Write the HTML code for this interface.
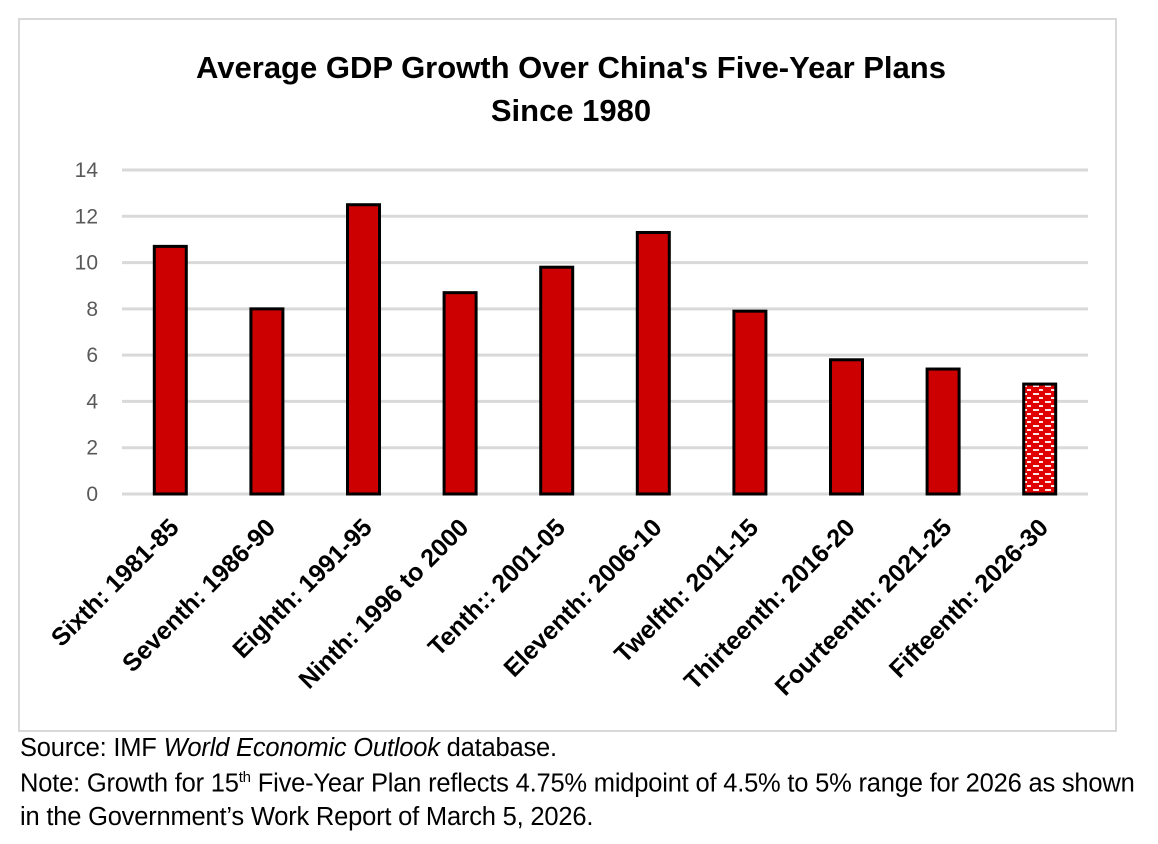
<!DOCTYPE html>
<html><head><meta charset="utf-8"><style>
body{margin:0;background:#fff;width:1158px;height:844px;position:relative;font-family:"Liberation Sans",Arial,sans-serif;overflow:hidden}
#box{position:absolute;left:18px;top:18px;width:1099px;height:714px;border:2px solid #d9d9d9;box-sizing:border-box}
.note{position:absolute;left:20px;font-family:"Liberation Sans",Arial,sans-serif;font-size:25.5px;color:#000;white-space:nowrap;letter-spacing:-0.2px}
</style></head><body>
<div id="box"></div>
<svg width="1158" height="844" style="position:absolute;left:0;top:0">
<defs><pattern id="pat" width="12" height="8" patternUnits="userSpaceOnUse">
<rect width="12" height="8" fill="#e00000"/><rect x="1" y="1" width="6" height="2" fill="#fff" opacity="0.9"/><rect x="7" y="5" width="4" height="2" fill="#fff" opacity="0.9"/></pattern></defs>
<text x="571" y="78" text-anchor="middle" font-size="31" font-weight="bold">Average GDP Growth Over China's Five-Year Plans</text>
<text x="571" y="121" text-anchor="middle" font-size="31" font-weight="bold">Since 1980</text>
<g id="grid"></g><g id="bars"></g><g id="xl"></g>
</svg>
<div class="note" style="top:734px">Source: IMF <i>World Economic Outlook</i> database.</div>
<div class="note" style="top:769px">Note: Growth for 15<sup style="font-size:15px">th</sup> Five-Year Plan reflects 4.75% midpoint of 4.5% to 5% range for 2026 as shown</div>
<div class="note" style="top:803px">in the Government’s Work Report of March 5, 2026.</div>
<script>
const categories=["Sixth: 1981-85","Seventh: 1986-90","Eighth: 1991-95","Ninth: 1996 to 2000","Tenth:: 2001-05","Eleventh: 2006-10","Twelfth: 2011-15","Thirteenth: 2016-20","Fourteenth: 2021-25","Fifteenth: 2026-30"];
const values=[10.7,8.0,12.5,8.7,9.8,11.3,7.9,5.8,5.4,4.75];
const ticks=[0,2,4,6,8,10,12,14];
const NS="http://www.w3.org/2000/svg";
const x0=122,x1=1088,yB=494,yT=170,ymax=14;
const y=v=>yB-(v/ymax)*(yB-yT);
const bw=(x1-x0)/categories.length;
const xc=i=>x0+bw*(i+0.5);
function mk(t,a,p){const e=document.createElementNS(NS,t);for(const k in a)e.setAttribute(k,a[k]);p.appendChild(e);return e;}
const g=document.getElementById('grid');
ticks.forEach(t=>{
 const l=mk('line',{x1:x0,x2:x1,y1:y(t),y2:y(t),stroke:'#d9d9d9','stroke-width':3},g);
 
 
 const tx=mk('text',{x:98,y:y(t)+7,'text-anchor':'end','font-size':21,fill:'#595959'},g);
 tx.textContent=t;
 
 
});
const b=document.getElementById('bars'),xl=document.getElementById('xl');
values.forEach((v,i)=>{
 const last=i===values.length-1;
 const r=mk('rect',{x:xc(i)-16,y:y(v),width:32,height:yB-y(v),fill:last?'url(#pat)':'#cc0000',stroke:'#000','stroke-width':3},b);
 
 
 const tx=mk('text',{x:0,y:0,'text-anchor':'end','font-size':25,'font-weight':'bold',transform:`translate(${xc(i)+10},${yB+35}) rotate(-45)`},xl);
 tx.textContent=categories[i];
 
 
});
</script>
</body></html>
